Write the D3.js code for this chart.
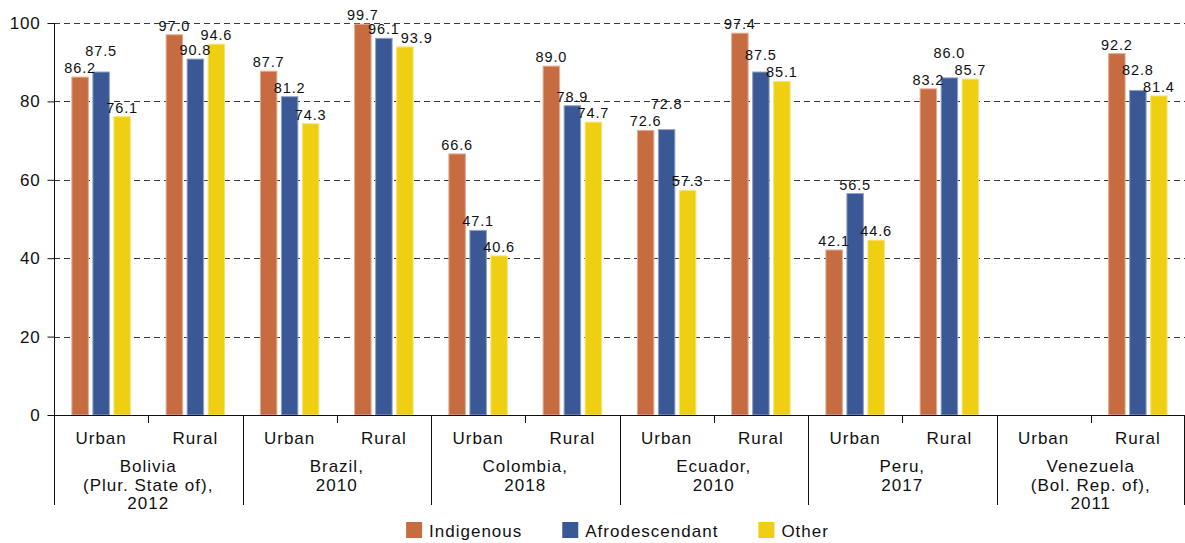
<!DOCTYPE html>
<html>
<head>
<meta charset="utf-8">
<script src="https://cdn.jsdelivr.net/npm/d3@7"></script>
<style>
  html, body { margin: 0; padding: 0; background: #fff; }
  svg { display: block; font-family: "Liberation Sans", Arial, Helvetica, sans-serif; }
</style>
</head>
<body>
<svg id="chart" width="1185" height="543"></svg>
<script>
// ---------- data ----------
const countries = ["Bolivia", "Brazil", "Colombia", "Ecuador", "Peru", "Venezuela"];
const countryLabels = [
  ["Bolivia", "(Plur. State of),", "2012"],
  ["Brazil,", "2010"],
  ["Colombia,", "2018"],
  ["Ecuador,", "2010"],
  ["Peru,", "2017"],
  ["Venezuela", "(Bol. Rep. of),", "2011"]
];
const areas = ["Urban", "Rural"];
const seriesNames = ["Indigenous", "Afrodescendant", "Other"];
// order: Bolivia U, R, Brazil U, R, Colombia U, R, Ecuador U, R, Peru U, R, Venezuela U, R
const indigenous     = [86.2, 97.0, 87.7, 99.7, 66.6, 89.0, 72.6, 97.4, 42.1, 83.2, null, 92.2];
const afrodescendant = [87.5, 90.8, 81.2, 96.1, 47.1, 78.9, 72.8, 87.5, 56.5, 86.0, null, 82.8];
const other          = [76.1, 94.6, 74.3, 93.9, 40.6, 74.7, 57.3, 85.1, 44.6, 85.7, null, 81.4];
const yTicks = [0, 20, 40, 60, 80, 100];

// ---------- setup ----------
const colors = ["#C76B40", "#3A5896", "#EFCF12"];
const seriesValues = [indigenous, afrodescendant, other];
const svg = d3.select("#chart");
const plotLeft = 54, plotRight = 1185, plotTop = 23, plotBottom = 415, axisBottom = 505;
const textColor = "#111111";

const x0 = d3.scaleBand().domain(countries).range([plotLeft, plotRight]).padding(0);
const x1 = d3.scaleBand().domain(areas).range([0, x0.bandwidth()]).padding(0);
const x2 = d3.scaleBand().domain(seriesNames).range([-31.5, 31.5]).paddingInner(0.214).paddingOuter(0.107);
const y = d3.scaleLinear().domain([0, 100]).range([plotBottom, plotTop]);

// gridlines
svg.append("g").selectAll("line").data(yTicks.filter(t => t > 0)).join("line")
  .attr("x1", plotLeft).attr("x2", plotRight)
  .attr("y1", d => Math.round(y(d)) + 0.5).attr("y2", d => Math.round(y(d)) + 0.5)
  .attr("stroke", "#3a3a3a").attr("stroke-width", 1).attr("stroke-dasharray", "6,4");

// records
const records = [];
countries.forEach((c, ci) => {
  areas.forEach((a, ai) => {
    const idx = ci * 2 + ai;
    seriesNames.forEach((s, si) => {
      const v = seriesValues[si][idx];
      if (v != null) records.push({ c, a, s, si, v, idx });
    });
  });
});
const cx = d => x0(d.c) + x1(d.a) + x1.bandwidth() / 2;

// bars
svg.append("g").selectAll("rect").data(records).join("rect")
  .attr("x", d => cx(d) + x2(d.s))
  .attr("width", x2.bandwidth())
  .attr("y", d => y(d.v))
  .attr("height", d => y(0) - y(d.v))
  .attr("fill", d => colors[d.si])
  .attr("stroke", d => d3.interpolateRgb(colors[d.si], "#ffffff")(0.45))
  .attr("stroke-width", 1);

// value labels with simple collision avoidance
const labelG = svg.append("g").attr("fill", textColor).attr("font-size", "14.5px").attr("letter-spacing", "0.9px");
const labels = labelG.selectAll("text").data(records).join("text")
  .attr("text-anchor", "middle")
  .text(d => d.v.toFixed(1));
labels.each(function(d) {
  d.lw = this.getComputedTextLength();
  d.lx = cx(d) + x2(d.s) + x2.bandwidth() / 2;
  d.ly = y(d.v) - 4;
});
const capH = 11, minGap = 6, minBaseline = plotTop + capH;
d3.groups(records, d => d.idx).forEach(([, grp]) => {
  const order = grp.slice().sort((a, b) => b.ly - a.ly);
  const placed = [];
  order.forEach(d => {
    let moved = true, guard = 0;
    while (moved && guard++ < 20) {
      moved = false;
      for (const p of placed) {
        const need = (d.lw + p.lw) / 2 + 1;
        const hOver = Math.abs(d.lx - p.lx) < need;
        const vOver = (d.ly > p.ly - capH - 2) && (d.ly - capH - 2 < p.ly);
        if (hOver && vOver) {
          const raised = p.ly - capH - minGap;
          if (raised >= minBaseline) {
            d.ly = raised;
          } else if (d.lx < p.lx) {
            p.lx = d.lx + need;   // push the right-hand label further right
          } else {
            d.lx = p.lx + need;
          }
          moved = true;
        }
      }
    }
    placed.push(d);
  });
});
labels.attr("x", d => d.lx).attr("y", d => d.ly);

// y axis
const yAxis = d3.axisLeft(y).tickValues(yTicks).tickSize(7).tickPadding(7).tickFormat(d3.format("d"));
const yg = svg.append("g").attr("transform", `translate(${plotLeft + 0.5},0)`).call(yAxis);
yg.select(".domain").remove();
yg.selectAll(".tick line").attr("stroke", "#111");
yg.selectAll(".tick text").attr("font-size", "17px").attr("fill", textColor)
  .attr("font-family", "Liberation Sans, Arial, sans-serif").attr("letter-spacing", "0.8px");
svg.append("line").attr("x1", plotLeft + 0.5).attr("x2", plotLeft + 0.5).attr("y1", plotTop).attr("y2", axisBottom)
  .attr("stroke", "#111");

// x axis line
svg.append("line").attr("x1", plotLeft).attr("x2", plotRight).attr("y1", plotBottom + 0.5).attr("y2", plotBottom + 0.5)
  .attr("stroke", "#111");

// group separators
const seps = countries.map(c => x0(c)).concat([plotRight - 1]);
svg.append("g").selectAll("line").data(seps.slice(1)).join("line")
  .attr("x1", d => Math.round(d) + 0.5).attr("x2", d => Math.round(d) + 0.5)
  .attr("y1", plotBottom).attr("y2", axisBottom).attr("stroke", "#111");
// subgroup ticks
svg.append("g").selectAll("line").data(countries).join("line")
  .attr("x1", c => Math.round(x0(c) + x1("Rural")) + 0.5).attr("x2", c => Math.round(x0(c) + x1("Rural")) + 0.5)
  .attr("y1", plotBottom).attr("y2", plotBottom + 8).attr("stroke", "#111");

// area labels
const areaRecs = [];
countries.forEach(c => areas.forEach(a => areaRecs.push({ c, a })));
svg.append("g").selectAll("text").data(areaRecs).join("text")
  .attr("x", d => x0(d.c) + x1(d.a) + x1.bandwidth() / 2)
  .attr("y", 444)
  .attr("text-anchor", "middle").attr("font-size", "17px").attr("letter-spacing", "1px")
  .attr("fill", textColor).text(d => d.a);

// country labels
const cg = svg.append("g").selectAll("text").data(countries).join("text")
  .attr("text-anchor", "middle").attr("font-size", "17px").attr("letter-spacing", "1px")
  .attr("fill", textColor);
cg.each(function(c, i) {
  const t = d3.select(this);
  countryLabels[i].forEach((line, li) => {
    t.append("tspan").attr("x", x0(c) + x0.bandwidth() / 2).attr("y", 472 + li * 18.5).text(line);
  });
});

// legend
const legend = svg.append("g");
const items = legend.selectAll("g").data(seriesNames).join("g");
items.append("rect").attr("width", 16).attr("height", 16).attr("y", 522)
  .attr("fill", (d, i) => colors[i]);
items.append("text").attr("x", 23).attr("y", 537).attr("font-size", "17px").attr("letter-spacing", "1px")
  .attr("fill", textColor).text(d => d);
let widths = [];
items.each(function() { widths.push(this.querySelector("text").getComputedTextLength() + 23); });
const gap = 40;
const total = d3.sum(widths) + gap * (widths.length - 1);
let start = (plotLeft + plotRight) / 2 - total / 2 - 2;
items.attr("transform", (d, i) => {
  const xx = start; start += widths[i] + gap; return `translate(${xx},0)`;
});
</script>
</body>
</html>
